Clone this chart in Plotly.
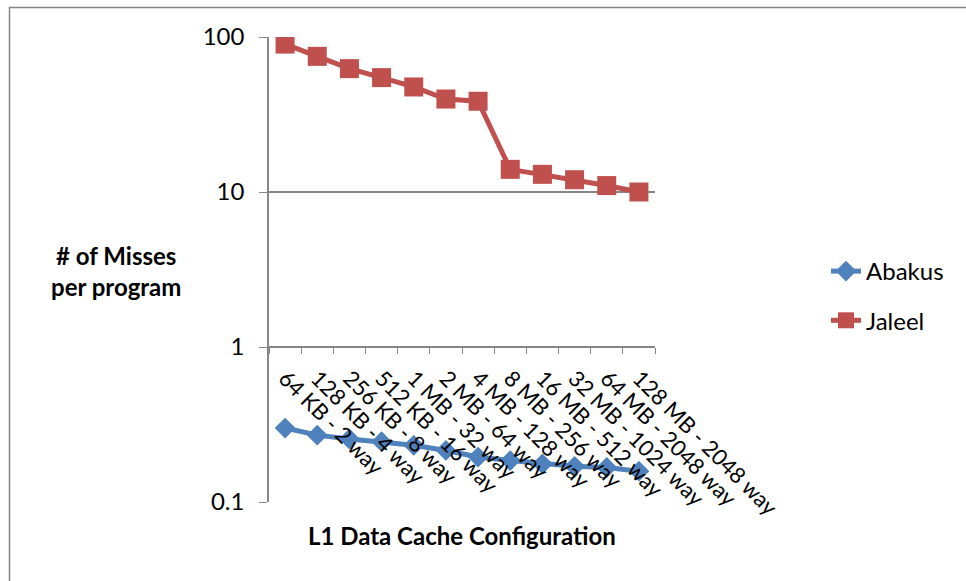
import plotly.graph_objects as go

categories = ["64 KB - 2 way", "128 KB - 4 way", "256 KB - 8 way", "512 KB - 16 way",
              "1 MB - 32 way", "2 MB - 64 way", "4 MB - 128 way", "8 MB - 256 way",
              "16 MB - 512 way", "32 MB - 1024 way", "64 MB - 2048 way", "128 MB - 2048 way"]
abakus = [0.30, 0.27, 0.255, 0.245, 0.232, 0.215, 0.195, 0.185, 0.176, 0.170, 0.167, 0.158]
jaleel = [90, 75, 62.5, 54.7, 47.6, 39.8, 38.5, 14.0, 13.0, 12.0, 11.0, 10.0]
y_ticks = [0.1, 1, 10, 100]
y_tick_text = ["0.1", "1", "10", "100"]

BLUE = "#4F81BD"
RED = "#C0504D"
GRID = "#868686"
FONT = "Lato"

fig = go.Figure()
fig.add_trace(go.Scatter(x=categories, y=abakus, name="Abakus", mode="lines+markers",
                         line=dict(color=BLUE, width=5),
                         marker=dict(symbol="diamond", size=16, color=BLUE),
                         legendgroup="a"))
fig.add_trace(go.Scatter(x=categories, y=jaleel, name="Jaleel", mode="lines+markers",
                         line=dict(color=RED, width=5),
                         marker=dict(symbol="square", size=19, color=RED),
                         legendgroup="b"))

W, H = 966, 581
L, R, T, B = 269, 311, 37, 79
pw, ph = W - L - R, H - T - B

def px(x):
    return (x - L) / pw

def py(y):
    return (H - B - y) / ph

fig.update_layout(
    width=W, height=H,
    margin=dict(l=L, r=R, t=T, b=B, pad=0, autoexpand=False),
    paper_bgcolor="white", plot_bgcolor="white",
    font=dict(family=FONT, size=22, color="black"),
    showlegend=True,
    legend=dict(x=px(826), y=py(249), xanchor="left", yanchor="top",
                traceorder="grouped", tracegroupgap=15,
                font=dict(family=FONT, size=24, color="black"),
                bgcolor="rgba(0,0,0,0)"),
    xaxis=dict(type="category", anchor="free", position=1/3,
               range=[-0.5, len(categories) - 0.5],
               showline=True, linecolor=GRID, linewidth=1.5,
               ticks="outside", tickson="boundaries", ticklen=6, tickcolor=GRID,
               tickangle=45, showgrid=False, zeroline=False, automargin=False,
               ticklabelstandoff=9,
               tickfont=dict(family=FONT, size=22, color="black")),
    yaxis=dict(type="log", range=[-1, 2], tickvals=y_ticks, ticktext=y_tick_text,
               showline=True, linecolor=GRID, linewidth=1.5,
               ticks="outside", ticklen=8, tickcolor=GRID,
               showgrid=True, gridcolor=GRID, gridwidth=1.5, zeroline=False,
               ticklabelstandoff=10, automargin=False,
               tickfont=dict(family=FONT, size=24, color="black")),
    shapes=[dict(type="rect", xref="paper", yref="paper",
                 x0=px(9.5), x1=px(975), y0=py(595), y1=py(7.5),
                 line=dict(color=GRID, width=1.5), layer="below")],
    annotations=[
        dict(text="<b># of Misses<br>per program</b>", xref="paper", yref="paper",
             x=px(116), y=py(271), xanchor="center", yanchor="middle",
             showarrow=False, align="center",
             font=dict(family=FONT, size=24, color="black")),
        dict(text="<b>L1 Data Cache Configuration</b>", xref="paper", yref="paper",
             x=px(462), y=py(535), xanchor="center", yanchor="middle",
             showarrow=False,
             font=dict(family=FONT, size=24, color="black")),
    ],
)

fig.write_html("out.html", config={"displayModeBar": False},
               post_script="document.body.style.margin='0px';")
